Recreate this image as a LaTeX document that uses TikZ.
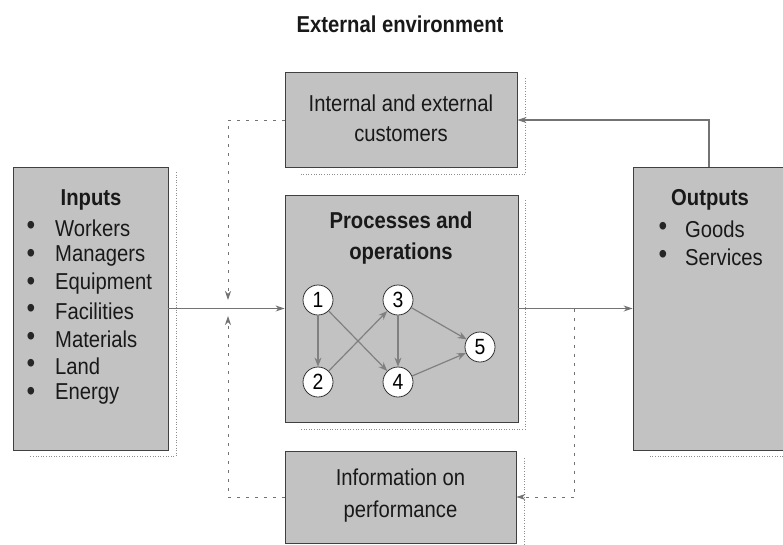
\documentclass[tikz,border=0pt]{standalone}
\usepackage{fontspec}
\setmainfont{Liberation Sans}[FakeStretch=0.88]
\usetikzlibrary{arrows.meta}
\begin{document}
\begin{tikzpicture}[x=1pt,y=-1pt,
  box/.style={draw=black!75, fill=black!24, line width=0.9pt, inner sep=0pt},
  txt/.style={inner sep=0pt, font=\fontsize{23}{26}\selectfont, text=black!90},
  btxt/.style={txt, font=\fontsize{23}{26}\selectfont\bfseries},
  bul/.style={inner sep=0pt, font=\fontsize{28}{30}\selectfont, text=black!85},
  num/.style={circle, draw=black!80, fill=white, line width=0.8pt, minimum size=30pt, inner sep=0pt, font=\fontsize{22}{24}\selectfont},
  flow/.style={draw=black!55, line width=1.1pt, -{Stealth[length=9pt,width=6pt]}},
  fb/.style={draw=black!55, line width=0.9pt, dash pattern=on 3pt off 6pt},
  fbarrow/.style={fb, -{Stealth[length=9pt,width=6pt,fill=black!55]}},
  garrow/.style={draw=black!50, line width=1.2pt, -{Stealth[length=9pt,width=7pt]}},
  shadow/.style={draw=black!45, line width=0.6pt, dotted}
]
\useasboundingbox (0,0) rectangle (783,544);

% title
\node[btxt] (title) at (400,24) {External environment};

% shadows
\draw[shadow] (176,172) -- (176,456) -- (30,456);
\draw[shadow] (525,78) -- (525,174) -- (300,174);
\draw[shadow] (525,200) -- (525,429) -- (300,429);
\draw[shadow] (524,458) -- (524,544);
\draw[shadow] (783,456) -- (648,456);

% boxes
\node[box, minimum width=155pt, minimum height=283pt] (inputs) at (90.5,308.5) {};
\node[box, minimum width=232pt, minimum height=95pt] (cust) at (401,120) {};
\node[box, minimum width=233pt, minimum height=227pt] (proc) at (401.5,308.5) {};
\node[box, minimum width=231pt, minimum height=92pt] (info) at (400.5,497) {};
\node[box, minimum width=152pt, minimum height=283pt] (outputs) at (709,308.5) {};

% box texts
\node[txt, align=center] (custtxt) at (401,118) {Internal and external\\[4pt]customers};
\node[btxt, align=center] (proctxt) at (401,238) {Processes and\\[5pt]operations};
\node[txt, align=center] (infotxt) at (400.5,496) {Information on\\[6pt]performance};

% inputs list
\node[btxt] (inh) at (91,200) {Inputs};
\foreach \t/\y [count=\i] in {Workers/228,Managers/256,Equipment/284,Facilities/311,Materials/339,Land/366,Energy/394}{
  \node[bul] (ib\i) at (31,\y) {\textbullet};
  \node[txt, anchor=west] (it\i) at (55,\y) {\t};
}

% outputs list
\node[btxt, anchor=west] (outh) at (671,200) {Outputs};
\node[bul] (ob1) at (663,229) {\textbullet};
\node[txt, anchor=west] (ot1) at (685,229) {Goods};
\node[bul] (ob2) at (663,257) {\textbullet};
\node[txt, anchor=west] (ot2) at (685,257) {Services};

% process graph
\node[num] (n1) at (318,300) {1};
\node[num] (n3) at (398,300) {3};
\node[num] (n5) at (480,347) {5};
\node[num] (n2) at (318,382) {2};
\node[num] (n4) at (398,382) {4};
\draw[garrow] (n1) -- (n2);
\draw[garrow] (n1) -- (n4);
\draw[garrow] (n2) -- (n3);
\draw[garrow] (n3) -- (n4);
\draw[garrow] (n3) -- (n5);
\draw[garrow] (n4) -- (n5);

% main flow
\draw[flow] (inputs.east) -- (proc.west);
\draw[flow] (proc.east) -- (outputs.west);

% feedback to customers
\coordinate (topright) at (outputs.north |- cust.east);
\draw[flow] (outputs.north) -- (topright) -- (cust.east);

% left feedback
\coordinate (tl) at (228,120);
\coordinate (ja) at (228,300);
\coordinate (bl) at (228,497);
\coordinate (jb) at (228,316);
\draw[fbarrow] (cust.west) -- (tl) -- (ja);
\draw[fbarrow] (info.west) -- (bl) -- (jb);

% right feedback
\coordinate (rj) at (574,308.5);
\coordinate (rb) at (574,497);
\draw[fbarrow] (rj) -- (rb) -- (info.east);
\end{tikzpicture}
\end{document}
